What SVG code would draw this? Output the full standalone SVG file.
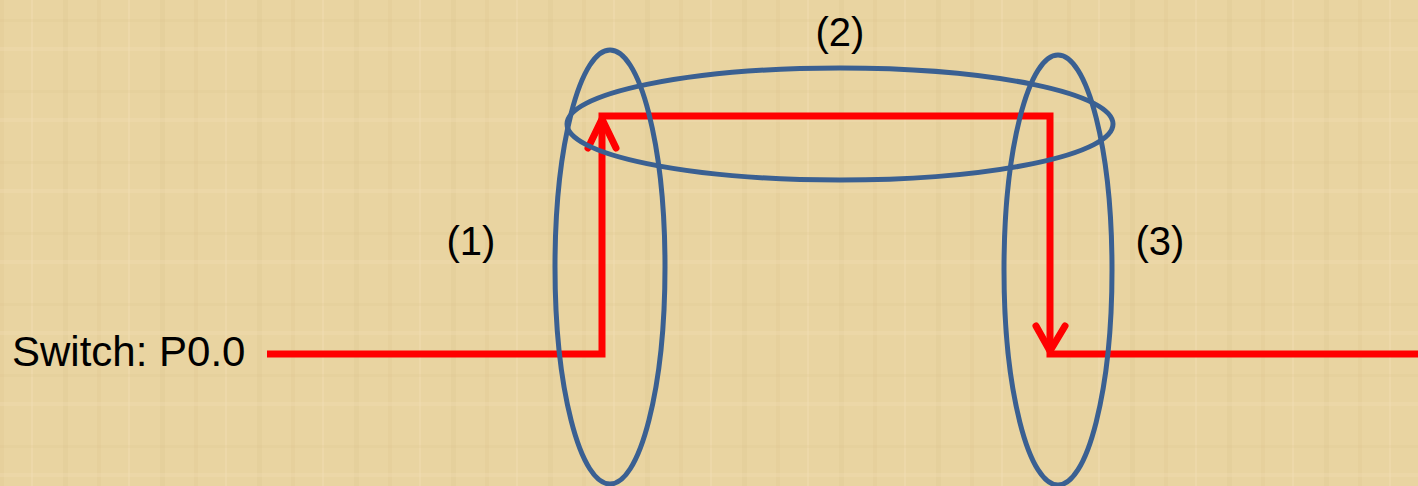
<svg xmlns="http://www.w3.org/2000/svg" width="1418" height="486" viewBox="0 0 1418 486">
  <defs>
    <pattern id="papyrus" width="97" height="71" patternUnits="userSpaceOnUse">
      <rect width="97" height="71" fill="#E9D4A1"/>
      <rect x="0" y="0" width="4" height="71" fill="#DCC38A" opacity="0.25"/>
      <rect x="31" y="0" width="2" height="71" fill="#F2E0B6" opacity="0.35"/>
      <rect x="63" y="0" width="5" height="71" fill="#D9BF86" opacity="0.2"/>
      <rect x="0" y="19" width="97" height="3" fill="#DCC38A" opacity="0.2"/>
      <rect x="0" y="47" width="97" height="4" fill="#F2E0B6" opacity="0.3"/>
    </pattern>
    <style>
      .wire { fill: none; stroke: #FF0000; stroke-width: 7; stroke-linecap: butt; stroke-linejoin: miter; }
      .head { fill: none; stroke: #FF0000; stroke-width: 7; stroke-linecap: round; stroke-linejoin: round; }
      .ring { fill: none; stroke: #3A6092; stroke-width: 5; }
      .lbl { font-family: "Liberation Sans", Arial, sans-serif; font-size: 40px; fill: #000000; }
    </style>
  </defs>
  <rect width="1418" height="486" fill="url(#papyrus)"/>

  <g id="connectors">
    <polyline class="wire" points="267,354 602,354 602,116 1050,116 1050,354 1418,354"/>
    <polyline class="head" points="588,148 602,119 616,148"/>
    <polyline class="head" points="1036,326 1050,351 1065,326"/>
  </g>

  <g id="switch-label">
    <text class="lbl" x="12" y="366" style="font-size:42px">Switch: P0.0</text>
  </g>
  <g id="ring-1">
    <ellipse class="ring" cx="610" cy="267" rx="55" ry="217"/>
    <text class="lbl" x="471" y="255" text-anchor="middle">(1)</text>
  </g>
  <g id="ring-2">
    <ellipse class="ring" cx="840" cy="124" rx="273" ry="56"/>
    <text class="lbl" x="840" y="46" text-anchor="middle">(2)</text>
  </g>
  <g id="ring-3">
    <ellipse class="ring" cx="1058" cy="270" rx="54" ry="215"/>
    <text class="lbl" x="1160" y="255" text-anchor="middle">(3)</text>
  </g>
</svg>
